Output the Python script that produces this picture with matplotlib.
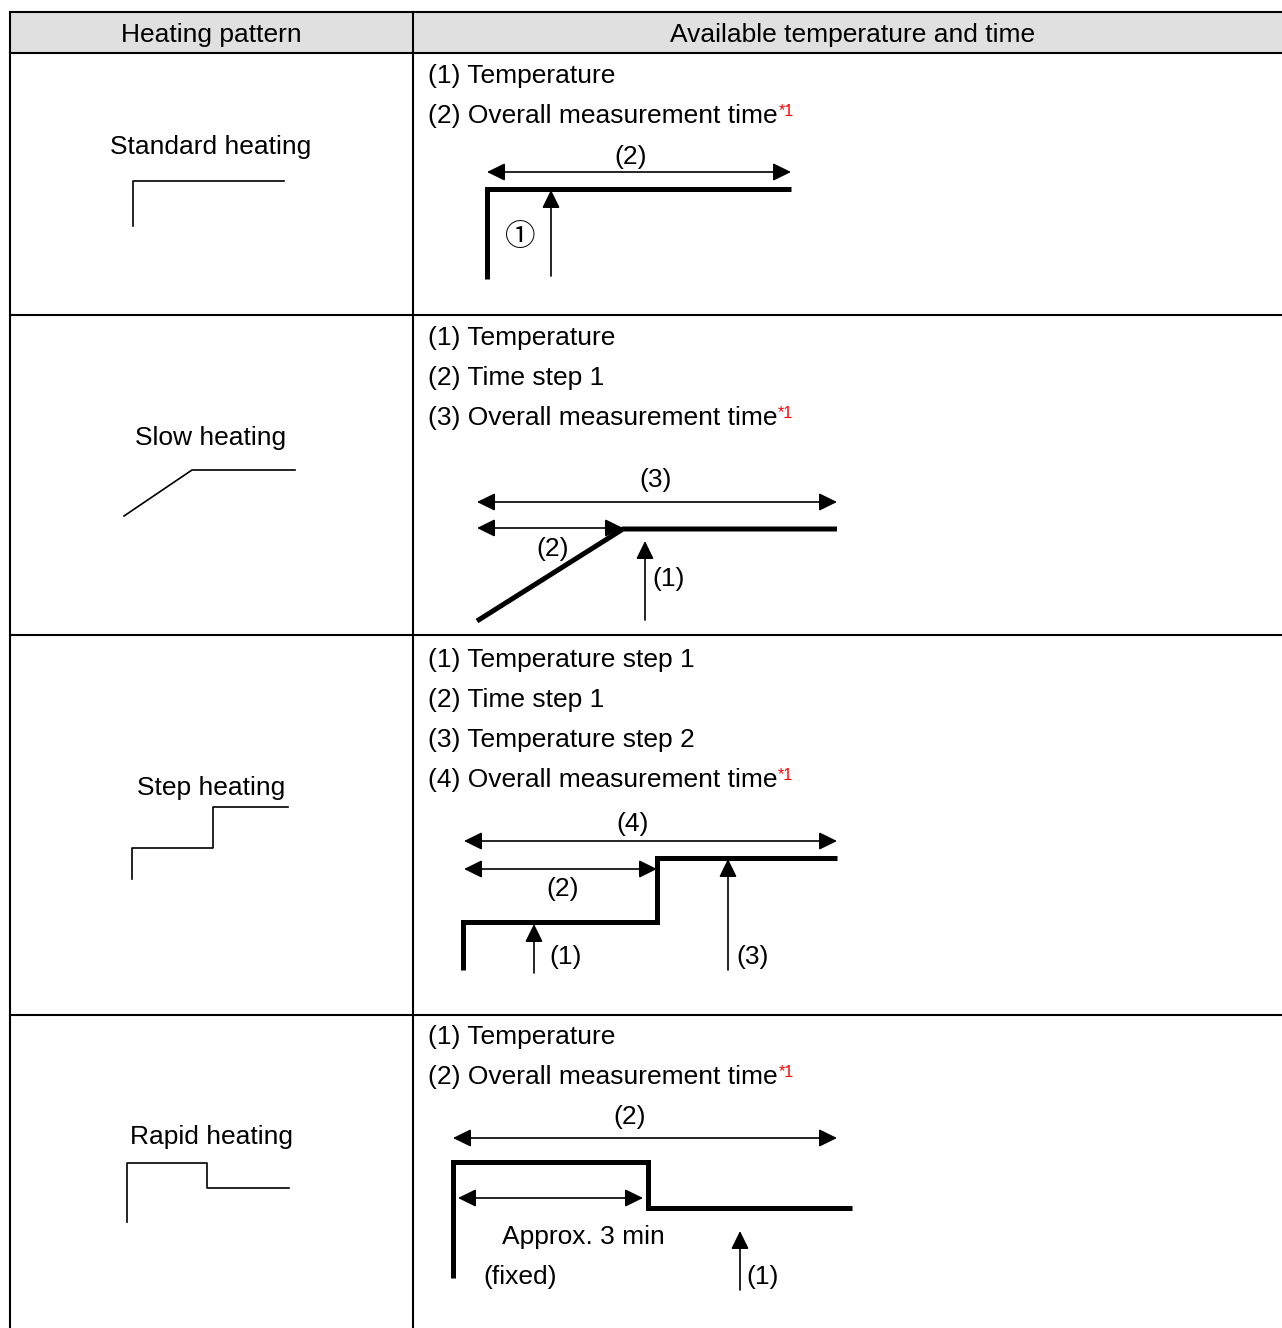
import matplotlib.pyplot as plt

plt.rcParams['font.family'] = ['Liberation Sans', 'Noto Sans CJK JP', 'DejaVu Sans']

W, H = 1282, 1328

# table text
header = ["Heating pattern", "Available temperature and time"]
patterns = ["Standard heating", "Slow heating", "Step heating", "Rapid heating"]
items = [
    ["(1) Temperature", "(2) Overall measurement time"],
    ["(1) Temperature", "(2) Time step 1", "(3) Overall measurement time"],
    ["(1) Temperature step 1", "(2) Time step 1", "(3) Temperature step 2",
     "(4) Overall measurement time"],
    ["(1) Temperature", "(2) Overall measurement time"],
]
note = "*1"

# table grid (pixels)
row_lines = [12, 53, 315, 635, 1015]
col_x = [10, 413]
header_x = [211, 853]
label_y = [147, 438, 788, 1137]
item_top = [76, 338, 660, 1037]
item_step = 40

# small icons in left column
icons = [
    ([133, 133, 284], [226, 181, 181]),
    ([124, 192, 295], [516, 470, 470]),
    ([132, 132, 213, 213, 288], [879, 848, 848, 807, 807]),
    ([127, 127, 207, 207, 289], [1222, 1163, 1163, 1188, 1188]),
]

# profiles (thick lines) in right column
profiles = [
    ([487, 487, 791], [279, 189, 189]),
    ([477, 623, 837], [621, 529, 529]),
    ([463, 463, 657, 657, 837], [970, 922, 922, 858, 858]),
    ([453, 453, 648, 648, 852], [1278, 1162, 1162, 1208, 1208]),
]

# double arrows: x0, x1, y
spans = [
    [(487, 791, 172)],
    [(477, 837, 502), (477, 623, 528)],
    [(464, 837, 841), (464, 657, 869)],
    [(453, 837, 1138), (458, 643, 1198)],
]

# up arrows: x, y_from, y_to
ups = [
    [(551, 276, 190)],
    [(645, 620, 541)],
    [(534, 973, 924), (728, 970, 859)],
    [(740, 1290, 1231)],
]

# labels inside the diagrams: text, x, y, ha
marks = [
    [("(2)", 631, 157, "center")],
    [("(3)", 656, 480, "center"), ("(2)", 553, 549, "center"), ("(1)", 652, 579, "left")],
    [("(4)", 633, 824, "center"), ("(2)", 563, 889, "center"),
     ("(1)", 549, 957, "left"), ("(3)", 736, 957, "left")],
    [("(2)", 630, 1117, "center"), ("Approx. 3 min", 583, 1237, "center"),
     ("(fixed)", 483, 1277, "left"), ("(1)", 746, 1277, "left")],
]

fig = plt.figure(figsize=(W / 100, H / 100), dpi=100)
ax = fig.add_axes([0, 0, 1, 1])
ax.set_xlim(0, W)
ax.set_ylim(H, 0)
ax.axis("off")

fs = 19

# header
ax.fill_between([col_x[0], W], row_lines[0], row_lines[1], color="#e0e0e0", lw=0)
for y in row_lines:
    ax.plot([col_x[0], W], [y, y], color="black", lw=1.5)
for x in col_x:
    ax.plot([x, x], [row_lines[0], H], color="black", lw=1.5)
for x, s in zip(header_x, header):
    ax.text(x, 35, s, ha="center", va="center", fontsize=fs)

arrow_kw = dict(color="black", lw=1.2, shrinkA=0, shrinkB=0, mutation_scale=20)

for i in range(4):
    ax.text(211, label_y[i], patterns[i], ha="center", va="center", fontsize=fs)
    ax.plot(icons[i][0], icons[i][1], color="black", lw=1.2)

    for k, s in enumerate(items[i]):
        y = item_top[i] + k * item_step
        t = ax.text(428, y, s, ha="left", va="center", fontsize=fs)
        if k == len(items[i]) - 1:
            ax.annotate(note, xy=(1, 1), xycoords=t, xytext=(0.5, 0),
                        textcoords="offset points", ha="left", va="top",
                        fontsize=11.5, color="red")

    ax.plot(profiles[i][0], profiles[i][1], color="black", lw=3.6,
            solid_joinstyle="miter", solid_capstyle="butt")

    for x0, x1, y in spans[i]:
        ax.annotate("", xy=(x1, y), xytext=(x0, y),
                    arrowprops=dict(arrowstyle="<|-|>,head_length=0.55,head_width=0.27", **arrow_kw))
    for x, y0, y1 in ups[i]:
        ax.annotate("", xy=(x, y1), xytext=(x, y0),
                    arrowprops=dict(arrowstyle="-|>,head_length=0.55,head_width=0.27", **arrow_kw))
    for s, x, y, ha in marks[i]:
        ax.text(x, y, s, ha=ha, va="center", fontsize=fs)

# circled one in the standard heating diagram
ax.text(520, 237, "\u2460", ha="center", va="center", fontsize=22,
        family=["Noto Sans CJK JP", "DejaVu Sans"])

fig.savefig("out.png", dpi=100)
